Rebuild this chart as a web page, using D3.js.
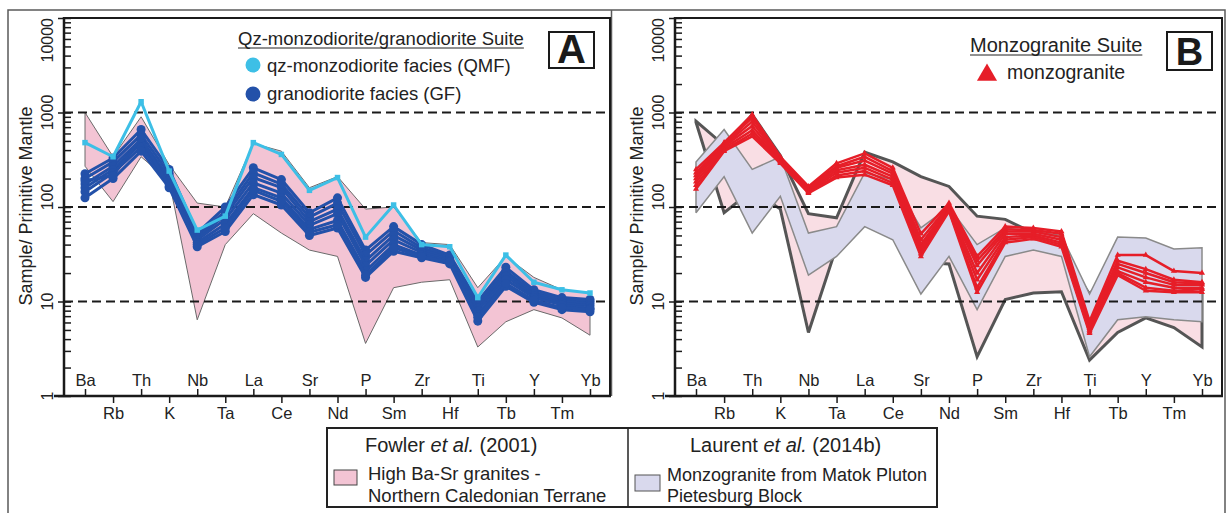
<!DOCTYPE html>
<html>
<head>
<meta charset="utf-8">
<script src="https://cdn.jsdelivr.net/npm/d3@7"></script>
<style>
  html, body { margin: 0; padding: 0; background: #fff; }
  svg { display: block; font-family: "Liberation Sans", Arial, sans-serif; }
</style>
</head>
<body>
<svg id="chart" width="1228" height="513"></svg>
<script>
// Primitive-mantle normalised multi-element (spider) diagrams
const elements = ["Ba","Rb","Th","K","Nb","Ta","La","Ce","Sr","Nd","P","Sm","Zr","Hf","Ti","Tb","Y","Tm","Yb"];
const yTickValues = [1, 10, 100, 1000, 10000];
const yTickLabels = ["1", "10", "100", "1000", "10000"];

// Fowler et al. (2001) field, high Ba-Sr granites
const fowlerUpperA = [1000, 340, 900, 280, 110, 100, 470, 390, 160, 210, 95, 100, 42, 40, 14, 30, 18, 13.3, 12.4];
const fowlerLowerA = [270, 114, 340, 190, 6.4, 40, 85, 53, 35, 30, 3.6, 14, 16, 17, 3.3, 6.1, 8.2, 6.7, 4.4];
const fowlerUpperB = [810, 450, 950, 350, 85, 77, 380, 300, 210, 165, 80, 74, 53, 33, 12, 25, 16, 14, 13];
const fowlerLowerB = [790, 87, 150, 95, 4.7, 38, 65, 48, 26, 25, 2.6, 10.5, 12.3, 12.7, 2.4, 4.7, 6.7, 5.3, 3.3];

// Laurent et al. (2014b) field, Matok Pluton monzogranite
const laurentUpper = [300, 660, 250, 340, 53, 62, 230, 195, 60, 100, 40, 60, 55, 50, 12, 48, 47, 36, 37];
const laurentLower = [87, 210, 53, 130, 19, 30, 62, 45, 12, 30, 8.2, 30, 35, 30, 2.6, 6.4, 6.9, 6.4, 6.1];

// qz-monzodiorite facies (QMF)
const qmf = [480, 340, 1300, 240, 57, 80, 480, 360, 150, 205, 48, 105, 40, 38, 11, 31, 16, 13.3, 12.3];

// granodiorite facies (GF)
const gf1 = [225, 330, 660, 250, 53, 100, 260, 195, 87, 125, 35, 62, 40, 31, 10, 23, 13.3, 11, 10.5];
const gf2 = [200, 300, 580, 225, 50, 90, 230, 175, 78, 110, 31, 56, 37, 30, 9.2, 21, 12.5, 10.5, 10];
const gf3 = [175, 270, 520, 205, 47, 82, 205, 160, 70, 95, 27, 50, 35, 29, 8.6, 20, 12, 10, 9.5];
const gf4 = [160, 250, 470, 190, 45, 74, 180, 140, 64, 85, 24, 45, 33, 28, 8, 18.5, 11.5, 9.6, 9];
const gf5 = [145, 230, 430, 175, 42, 66, 160, 125, 58, 72, 21, 40, 31, 27, 7.3, 17, 11, 9.2, 8.5];
const gf6 = [125, 200, 390, 160, 38, 55, 135, 105, 50, 60, 18, 34, 29, 25, 6.2, 14.5, 9.8, 8.2, 7.8];
const gf7 = [190, 215, 540, 165, 40, 60, 150, 115, 54, 65, 19, 37, 30, 26, 6.8, 15.5, 10.3, 8.6, 8.3];

// monzogranite
const mz1 = [250, 480, 950, 340, 165, 290, 370, 260, 52, 110, 30, 62, 60, 55, 6.2, 31, 31, 21, 20];
const mz2 = [230, 470, 880, 330, 160, 270, 340, 240, 45, 105, 27, 58, 57, 52, 5.8, 27, 22, 17, 16];
const mz3 = [215, 450, 800, 325, 155, 260, 310, 225, 40, 102, 24, 55, 55, 48, 5.5, 25, 20, 16, 15.5];
const mz4 = [200, 440, 720, 315, 150, 245, 280, 210, 37, 98, 20, 52, 52, 45, 5.2, 23, 18, 15, 15];
const mz5 = [185, 420, 650, 305, 147, 230, 260, 195, 34, 95, 17, 48, 50, 42, 5, 21, 16, 14, 14];
const mz6 = [170, 400, 600, 300, 143, 215, 240, 180, 32, 92, 14, 45, 48, 40, 4.8, 20, 14, 13, 13.5];
const mz7 = [155, 390, 560, 290, 140, 205, 220, 170, 30, 90, 12.5, 42, 46, 38, 4.6, 19, 13, 12.5, 12.5];

const gfSeries = [gf1, gf2, gf3, gf4, gf5, gf6, gf7];
const mzSeries = [mz1, mz2, mz3, mz4, mz5, mz6, mz7];

const C = {
  pinkA: "#f3c4d4", pinkB: "#f9dee4", lav: "#d9d9ed",
  qmf: "#3dbfe6", gf: "#2351a9", red: "#e61e28",
  frame: "#5a5a5a", ink: "#1a1a1a"
};

const svg = d3.select("#chart");
const plotTop = 18, plotBottom = 396;
const y = d3.scaleLog().domain([1, 10000]).range([plotBottom, plotTop]);

// outer frame
svg.append("path").attr("d", "M8,513V10H1225V513").attr("fill", "none")
  .attr("stroke", C.frame).attr("stroke-width", 1.5);
svg.append("line").attr("x1", 611.5).attr("x2", 611.5).attr("y1", 10).attr("y2", 396)
  .attr("stroke", C.frame).attr("stroke-width", 1.5);

function panel(opts) {
  const { left, right } = opts;
  const g = svg.append("g");
  const x = d3.scalePoint().domain(elements).range([left + 21, right - 20]);

  const fieldArea = (upper, lower) => d3.area()
    .x((d, i) => x(elements[i]))
    .y0((d, i) => y(lower[i]))
    .y1((d, i) => y(upper[i]))(upper);
  const outline = f => {
    const pts = elements.map((e, i) => [e, f.upper[i]])
      .concat(elements.map((e, i) => [e, f.lower[i]]).reverse());
    return d3.line().x(d => x(d[0])).y(d => y(d[1]))(pts) + "Z";
  };

  opts.fields.forEach(f => {
    g.append("path").attr("d", fieldArea(f.upper, f.lower))
      .attr("fill", f.fill).attr("stroke", "none");
    g.append("path").attr("d", outline(f))
      .attr("fill", "none").attr("stroke", f.stroke).attr("stroke-width", f.sw)
      .attr("stroke-linejoin", "miter").attr("stroke-miterlimit", 3);
  });

  // dashed reference lines
  [10, 100, 1000].forEach(v => {
    g.append("line").attr("x1", left).attr("x2", right)
      .attr("y1", y(v)).attr("y2", y(v))
      .attr("stroke", C.ink).attr("stroke-width", 2).attr("stroke-dasharray", "9,5");
  });

  const line = d3.line().x((d, i) => x(elements[i])).y(d => y(d));
  opts.series.forEach(s => {
    s.data.forEach(arr => {
      g.append("path").attr("d", line(arr)).attr("fill", "none")
        .attr("stroke", s.color).attr("stroke-width", s.width)
        .attr("stroke-linejoin", "round");
      const sym = d3.symbol().type(s.symbol).size(s.size);
      g.selectAll(null).data(arr).join("path")
        .attr("transform", (d, i) => `translate(${x(elements[i])},${y(d)})`)
        .attr("d", sym()).attr("fill", s.color);
    });
  });

  // plot box: top and right edges
  g.append("path").attr("d", `M${left},${plotTop}H${right}V${plotBottom}`)
    .attr("fill", "none").attr("stroke", C.ink).attr("stroke-width", 2);

  // y axis: decade ticks outside, minor ticks inside
  const ya = g.append("g").attr("transform", `translate(${left},0)`)
    .call(d3.axisLeft(y).tickValues(yTickValues).tickSize(6).tickFormat(""));
  ya.select(".domain").remove();
  ya.selectAll("line").attr("stroke", C.ink).attr("stroke-width", 1.5);
  const minor = [];
  for (let d = 1; d < 10000; d *= 10) for (let k = 2; k <= 9; k++) minor.push(d * k);
  const ym = g.append("g").attr("transform", `translate(${left},0)`)
    .call(d3.axisRight(y).tickValues(minor.concat(yTickValues)).tickSize(7).tickFormat(""));
  ym.select(".domain").remove();
  ym.selectAll("line").attr("stroke", C.ink).attr("stroke-width", 1.5);
  g.append("line").attr("x1", left).attr("x2", left).attr("y1", plotTop - 1).attr("y2", plotBottom)
    .attr("stroke", C.ink).attr("stroke-width", 2.5);
  yTickValues.forEach((v, i) => {
    let anchor = "middle", yy = y(v);
    if (v === 10000) { anchor = "end"; yy = plotTop; }
    if (v === 100) yy -= 10;
    g.append("text").attr("transform", `translate(${left - 11},${yy}) rotate(-90)`)
      .attr("text-anchor", anchor).attr("font-size", 16).attr("fill", "#222")
      .text(yTickLabels[i]);
  });
  g.append("text").attr("transform", `translate(${left - 32},${206}) rotate(-90)`)
    .attr("text-anchor", "middle").attr("font-size", 18).attr("fill", "#222")
    .text("Sample/ Primitive Mantle");

  // x axis: alternating label rows
  const up = elements.filter((e, i) => i % 2 === 0);
  const dn = elements.filter((e, i) => i % 2 === 1);
  const xa1 = g.append("g").attr("transform", `translate(0,${plotBottom})`)
    .call(d3.axisTop(x).tickValues(up).tickSize(7).tickPadding(3));
  const xa2 = g.append("g").attr("transform", `translate(0,${plotBottom})`)
    .call(d3.axisBottom(x).tickValues(dn).tickSize(7).tickPadding(4));
  [xa1, xa2].forEach(a => {
    a.select(".domain").remove();
    a.selectAll("line").attr("stroke", C.ink).attr("stroke-width", 1.5);
    a.selectAll("text").attr("font-size", 16.5).attr("fill", "#222")
      .attr("font-family", "Liberation Sans, Arial, sans-serif");
  });
  g.append("line").attr("x1", left - 10).attr("x2", right + 1).attr("y1", plotBottom).attr("y2", plotBottom)
    .attr("stroke", C.ink).attr("stroke-width", 2.5);

  // panel letter
  g.append("rect").attr("x", opts.box[0]).attr("y", opts.box[1]).attr("width", opts.box[2]).attr("height", opts.box[3])
    .attr("fill", "#fff").attr("stroke", C.ink).attr("stroke-width", 2);
  g.append("text").attr("x", opts.box[0] + opts.box[2] / 2).attr("y", opts.letterY).attr("text-anchor", "middle")
    .attr("font-size", opts.letterSize).attr("font-weight", "bold").attr("fill", C.ink).text(opts.letter);
  return g;
}

panel({
  left: 64, right: 610, box: [549, 32, 45, 36], letter: "A", letterY: 63, letterSize: 40,
  fields: [{ upper: fowlerUpperA, lower: fowlerLowerA, fill: C.pinkA, stroke: "#6a6a6a", sw: 1 }],
  series: [
    { data: gfSeries, color: C.gf, width: 3, symbol: d3.symbolCircle, size: 64 },
    { data: [qmf], color: C.qmf, width: 3, symbol: d3.symbolSquare, size: 30 }
  ]
});

panel({
  left: 675, right: 1222, box: [1167, 32, 45, 38], letter: "B", letterY: 65, letterSize: 38,
  fields: [
    { upper: fowlerUpperB, lower: fowlerLowerB, fill: C.pinkB, stroke: "#555", sw: 3 },
    { upper: laurentUpper, lower: laurentLower, fill: C.lav, stroke: "#8a8a8a", sw: 1.5 }
  ],
  series: [
    { data: mzSeries, color: C.red, width: 2.5, symbol: d3.symbolTriangle, size: 16 }
  ]
});

// legends inside panels
function legendTitle(x, yb, size, text) {
  const t = svg.append("text").attr("x", x).attr("y", yb).attr("font-size", size).attr("fill", "#222").text(text);
  const w = t.node().getComputedTextLength();
  svg.append("line").attr("x1", x).attr("x2", x + w).attr("y1", yb + 3).attr("y2", yb + 3)
    .attr("stroke", "#222").attr("stroke-width", 1);
}
legendTitle(238, 45, 18.5, "Qz-monzodiorite/granodiorite Suite");
svg.append("circle").attr("cx", 253).attr("cy", 65).attr("r", 7.5).attr("fill", C.qmf);
svg.append("text").attr("x", 267).attr("y", 72).attr("font-size", 18.5).attr("fill", "#222").text("qz-monzodiorite facies (QMF)");
svg.append("circle").attr("cx", 253).attr("cy", 94).attr("r", 7.5).attr("fill", C.gf);
svg.append("text").attr("x", 267).attr("y", 100).attr("font-size", 18.5).attr("fill", "#222").text("granodiorite facies (GF)");

legendTitle(970, 52, 20, "Monzogranite Suite");
svg.append("path").attr("transform", "translate(987,75)")
  .attr("d", d3.symbol().type(d3.symbolTriangle).size(175)()).attr("fill", C.red);
svg.append("text").attr("x", 1007).attr("y", 79).attr("font-size", 19.5).attr("fill", "#222").text("monzogranite");

// bottom legend box
const lg = svg.append("g");
lg.append("rect").attr("x", 327).attr("y", 428).attr("width", 610).attr("height", 79)
  .attr("fill", "#fff").attr("stroke", "#222").attr("stroke-width", 2);
lg.append("line").attr("x1", 628).attr("x2", 628).attr("y1", 428).attr("y2", 507)
  .attr("stroke", "#222").attr("stroke-width", 1.5);
const t1 = lg.append("text").attr("x", 365).attr("y", 452).attr("font-size", 20).attr("fill", "#222");
t1.append("tspan").text("Fowler ");
t1.append("tspan").attr("font-style", "italic").text("et al.");
t1.append("tspan").text(" (2001)");
lg.append("rect").attr("x", 334).attr("y", 470).attr("width", 23).attr("height", 15)
  .attr("fill", C.pinkA).attr("stroke", "#444").attr("stroke-width", 1);
lg.append("text").attr("x", 368).attr("y", 480).attr("font-size", 18.5).attr("fill", "#222").text("High Ba-Sr granites -");
lg.append("text").attr("x", 368).attr("y", 502).attr("font-size", 18.5).attr("fill", "#222").text("Northern Caledonian Terrane");
const t2 = lg.append("text").attr("x", 690).attr("y", 452).attr("font-size", 20).attr("fill", "#222");
t2.append("tspan").text("Laurent ");
t2.append("tspan").attr("font-style", "italic").text("et al.");
t2.append("tspan").text(" (2014b)");
lg.append("rect").attr("x", 635).attr("y", 475).attr("width", 25).attr("height", 16)
  .attr("fill", C.lav).attr("stroke", "#555").attr("stroke-width", 1);
lg.append("text").attr("x", 667).attr("y", 481).attr("font-size", 18).attr("fill", "#222").text("Monzogranite from Matok Pluton");
lg.append("text").attr("x", 667).attr("y", 502).attr("font-size", 18).attr("fill", "#222").text("Pietesburg Block");
</script>
</body>
</html>
